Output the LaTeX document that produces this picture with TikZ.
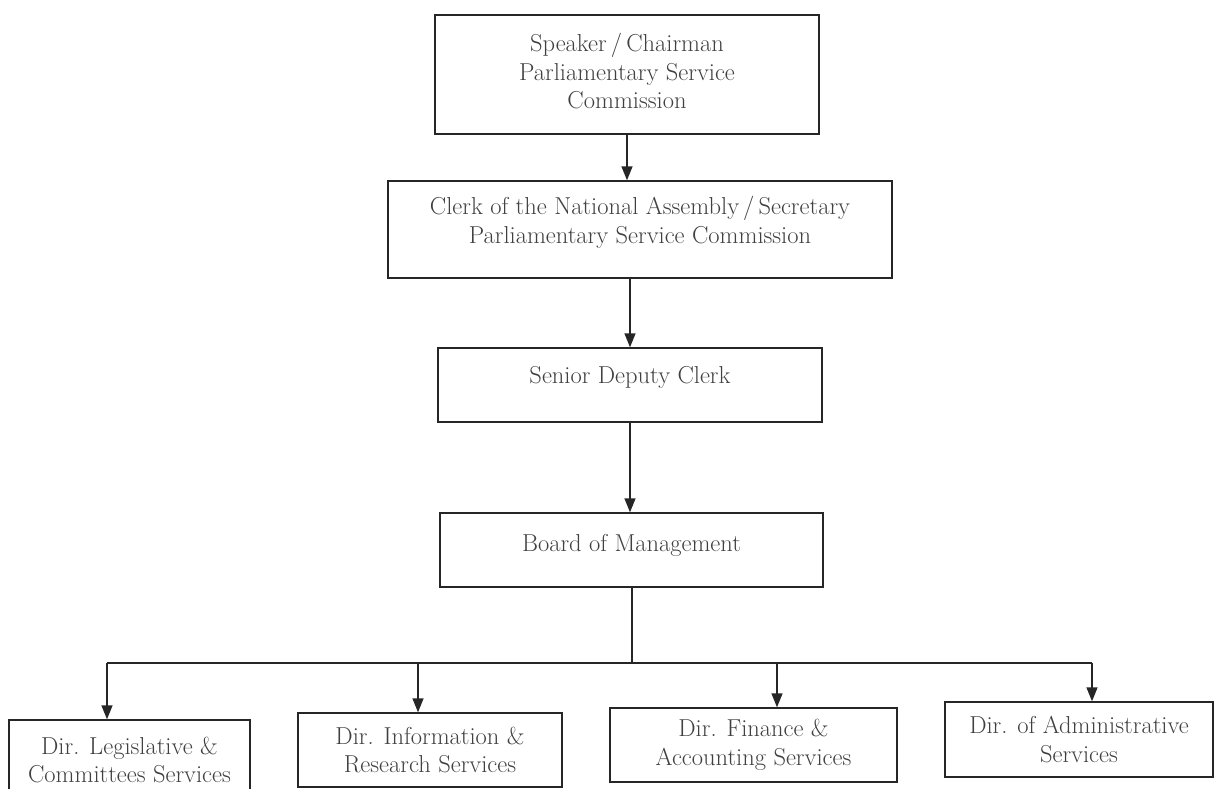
\documentclass[tikz,border=0pt]{standalone}
\usetikzlibrary{arrows.meta}
\newcommand\lowstrut[1]{\rule[-#1]{0pt}{1pt}}
\begin{document}
\begin{tikzpicture}[x=1pt,y=-1pt,
  box/.style={draw=black!85, line width=1.4pt, align=center, inner sep=0pt,
    font=\fontsize{24.5}{28.5}\selectfont, text=black!75},
  conn/.style={draw=black!85, line width=1.4pt, -{Triangle[length=14pt,width=11pt]}},
  plain/.style={draw=black!85, line width=1.4pt}]
\useasboundingbox (0,0) rectangle (1215,788);
\node[box, minimum width=384pt, minimum height=119pt] (spk) at (627,74.5)
  {Speaker\,/\,Chairman\\Parliamentary Service\\Commission\lowstrut{7pt}};
\node[box, minimum width=504pt, minimum height=97pt] (clerk) at (640,229.5)
  {Clerk of the National Assembly\,/\,Secretary\\Parliamentary Service Commission\lowstrut{19pt}};
\node[box, minimum width=384pt, minimum height=74pt] (sdc) at (630,385)
  {Senior Deputy Clerk\lowstrut{21pt}};
\node[box, minimum width=383pt, minimum height=74pt] (bom) at (631.5,550)
  {Board of Management\lowstrut{15pt}};
\node[box, minimum width=241pt, minimum height=80pt] (leg) at (129.5,760)
  {Dir. Legislative \&\\Committees Services};
\node[box, minimum width=264pt, minimum height=74pt] (info) at (430,750)
  {Dir. Information \&\\Research Services};
\node[box, minimum width=287pt, minimum height=74pt] (fin) at (753.5,745)
  {Dir. Finance \&\\Accounting Services};
\node[box, minimum width=268pt, minimum height=75pt] (adm) at (1079,739.5)
  {Dir. of Administrative\\Services};
\draw[conn] (spk.south) -- (clerk.north -| spk.south);
\draw[conn] (clerk.south -| sdc.north) -- (sdc.north);
\draw[conn] (sdc.south) -- (bom.north -| sdc.south);
\coordinate (bus) at (632,663);
\coordinate (busL) at (107,663);
\coordinate (busI) at (418,663);
\coordinate (busF) at (777,663);
\coordinate (busR) at (1092,663);
\draw[plain] (bom.south -| bus) -- (bus);
\draw[plain] (busL) -- (busR);
\draw[conn] (busL) -- (busL |- leg.north);
\draw[conn] (busI) -- (busI |- info.north);
\draw[conn] (busF) -- (busF |- fin.north);
\draw[conn] (busR) -- (busR |- adm.north);
\end{tikzpicture}
\end{document}
